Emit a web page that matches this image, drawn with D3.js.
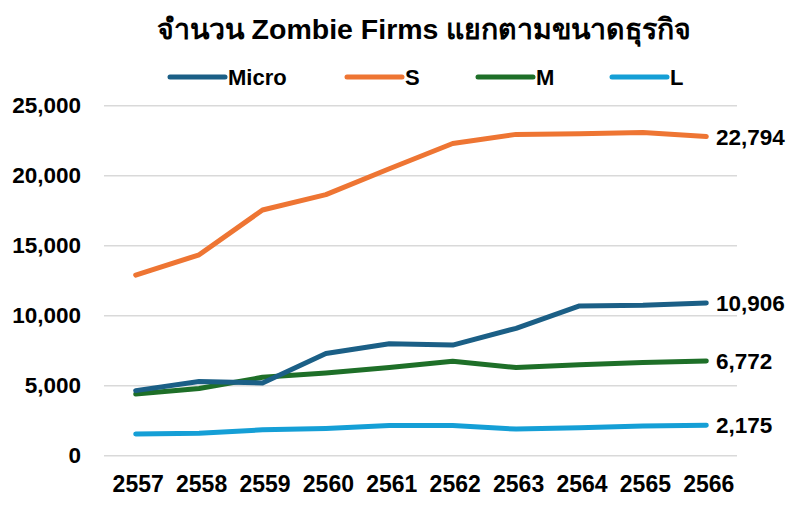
<!DOCTYPE html>
<html>
<head>
<meta charset="utf-8">
<script src="https://cdn.jsdelivr.net/npm/d3@7"></script>
<style>
    body { margin: 0; background: #fff; }
    svg { font-family: "Liberation Sans", Arial, sans-serif; font-weight: bold; }
</style>
</head>
<body>
<svg id="chart" width="808" height="505"></svg>
<script>
var title = 'จำนวน Zombie Firms แยกตามขนาดธุรกิจ';
var years = ['2557', '2558', '2559', '2560', '2561', '2562', '2563', '2564', '2565', '2566'];
var yTicks = [0, 5000, 10000, 15000, 20000, 25000];

var seriesNames = ['Micro', 'S', 'M', 'L'];
var seriesColors = ['#1b5f86', '#ee7533', '#1e6f28', '#159fd6'];
var micro = [4650, 5300, 5200, 7300, 8000, 7900, 9100, 10700, 10750, 10906];
var small = [12900, 14350, 17550, 18650, 20500, 22300, 22950, 23000, 23080, 22794];
var medium = [4400, 4800, 5600, 5900, 6300, 6750, 6300, 6500, 6650, 6772];
var large = [1550, 1600, 1850, 1950, 2150, 2150, 1900, 2000, 2120, 2175];
var seriesValues = [micro, small, medium, large];

var svg = d3.select('#chart');
var fmt = d3.format(',');

var x = d3.scalePoint().domain(years).range([104, 738]).padding(0.5);
var y = d3.scaleLinear().domain([0, 25000]).range([455.7, 105.7]);

svg.append('text')
    .attr('x', 424).attr('y', 39)
    .attr('text-anchor', 'middle')
    .style('font-size', '28.5px')
    .text(title);

// gridlines
svg.append('g').selectAll('line').data(yTicks).enter().append('line')
    .attr('x1', 104).attr('x2', 737)
    .attr('y1', function(d) { return y(d); })
    .attr('y2', function(d) { return y(d); })
    .attr('stroke', '#d9d9d9').attr('stroke-width', 1.5);

// y axis labels
var yAxis = d3.axisLeft(y).tickValues(yTicks).tickFormat(fmt).tickSize(0).tickPadding(0);
var gy = svg.append('g').attr('transform', 'translate(81,0)').call(yAxis);
gy.select('.domain').remove();
gy.selectAll('text').style('font-size', '22.5px').attr('fill', '#000').attr('font-family', null);

// x axis labels
var xAxis = d3.axisBottom(x).tickSize(0).tickPadding(0);
var gx = svg.append('g').attr('transform', 'translate(2,476)').call(xAxis);
gx.select('.domain').remove();
gx.selectAll('text').style('font-size', '23px').attr('fill', '#000').attr('font-family', null);

var line = d3.line()
    .x(function(d, i) { return x(years[i]); })
    .y(function(d) { return y(d); });

var series = seriesNames.map(function(name, i) {
    return { name: name, color: seriesColors[i], values: seriesValues[i] };
});

// draw L first so the bigger series sit on top
svg.append('g').selectAll('path').data(series.slice().reverse()).enter().append('path')
    .attr('d', function(d) { return line(d.values); })
    .attr('fill', 'none')
    .attr('stroke', function(d) { return d.color; })
    .attr('stroke-width', 5)
    .attr('stroke-linecap', 'round')
    .attr('stroke-linejoin', 'round');

// end labels
svg.append('g').selectAll('text').data(series).enter().append('text')
    .attr('x', 716)
    .attr('y', function(d) { return y(d.values[d.values.length - 1]); })
    .attr('dy', '0.36em')
    .style('font-size', '22.5px')
    .text(function(d) { return fmt(d.values[d.values.length - 1]); });

// legend
var legendX = [170, 347, 478, 612];
var legend = svg.append('g').selectAll('g').data(series).enter().append('g')
    .attr('transform', function(d, i) { return 'translate(' + legendX[i] + ',77)'; });
legend.append('line')
    .attr('x1', 0).attr('x2', 55)
    .attr('stroke', function(d) { return d.color; })
    .attr('stroke-width', 5)
    .attr('stroke-linecap', 'round');
legend.append('text')
    .attr('x', 58).attr('dy', '0.36em')
    .style('font-size', '22px')
    .text(function(d) { return d.name; });
</script>
</body>
</html>
